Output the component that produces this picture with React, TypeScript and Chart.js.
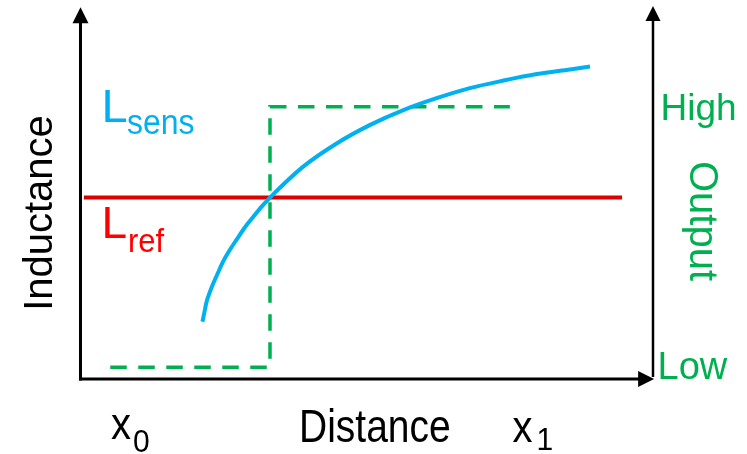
import React, { useEffect, useRef } from "react";
import { Chart, registerables } from "chart.js";

Chart.register(...registerables);

// ---- Data (arbitrary units: Distance 0..100 between the two vertical axes, Inductance 0..~100) ----
const sensDistance = [21.3, 21.7, 22.0, 22.6, 23.2, 24.1, 24.9, 26.1, 27.3, 28.7, 30.2, 31.6, 33.1, 38.9, 44.8, 50.6, 56.4, 62.2, 68.0, 73.9, 79.7, 85.5, 89.0];
const sensInductance = [15.9, 19.0, 21.3, 24.2, 26.6, 29.8, 32.6, 35.9, 38.8, 42.1, 45.1, 47.8, 50.4, 59.0, 65.5, 70.6, 74.7, 78.0, 80.8, 82.9, 84.7, 86.0, 86.8];

const refDistance = [0.6, 94.6];
const refInductance = [50.4, 50.4];

const outDistance = [5.2, 33.1, 33.1, 75.0];
const outLevel = [3.3, 3.3, 75.6, 75.6];

// axis extents (data units)
const leftAxisX = 0;
const rightAxisX = 100;
const axisTopLeft = 103.3;
const axisTopRight = 103.6;
const axisRightEnd = 100.2;

const FONT = '"Liberation Sans", Arial, Helvetica, sans-serif';
const BLUE = "#00B0F0";
const RED_LINE = "#DD0000";
const RED_TEXT = "#FF0000";
const GREEN = "#00B050";

function pts(xs: number[], ys: number[]) {
  return xs.map((x, i) => ({ x, y: ys[i] }));
}

function drawText(
  ctx: CanvasRenderingContext2D,
  text: string,
  x: number,
  y: number,
  size: number,
  color: string,
  sy = 1,
  rot = 0,
  align: CanvasTextAlign = "left"
) {
  ctx.save();
  ctx.translate(x, y);
  ctx.rotate(rot);
  ctx.scale(1, sy);
  ctx.font = `${size}px ${FONT}`;
  ctx.fillStyle = color;
  ctx.textAlign = align;
  ctx.textBaseline = "alphabetic";
  ctx.fillText(text, 0, 0);
  ctx.restore();
}

const decorPlugin = {
  id: "decor",
  afterDatasetsDraw(chart: any) {
    const ctx: CanvasRenderingContext2D = chart.ctx;
    const xs = chart.scales.x;
    const ys = chart.scales.y;
    const x0 = xs.getPixelForValue(leftAxisX);
    const x1 = xs.getPixelForValue(rightAxisX);
    const y0 = ys.getPixelForValue(0);
    const yTopL = ys.getPixelForValue(axisTopLeft);
    const yTopR = ys.getPixelForValue(axisTopRight);
    const xEnd = xs.getPixelForValue(axisRightEnd);

    ctx.save();
    ctx.strokeStyle = "#000";
    ctx.fillStyle = "#000";
    ctx.lineWidth = 3;
    // left axis
    ctx.beginPath();
    ctx.moveTo(x0, y0 + 1.5);
    ctx.lineTo(x0, yTopL + 14);
    ctx.stroke();
    ctx.beginPath();
    ctx.moveTo(x0, yTopL);
    ctx.lineTo(x0 - 8, yTopL + 16);
    ctx.lineTo(x0 + 8, yTopL + 16);
    ctx.closePath();
    ctx.fill();
    // right axis
    ctx.lineWidth = 2.5;
    ctx.beginPath();
    ctx.moveTo(x1, y0 - 2);
    ctx.lineTo(x1, yTopR + 12);
    ctx.stroke();
    ctx.beginPath();
    ctx.moveTo(x1, yTopR);
    ctx.lineTo(x1 - 7.5, yTopR + 15);
    ctx.lineTo(x1 + 7.5, yTopR + 15);
    ctx.closePath();
    ctx.fill();
    // bottom axis
    ctx.lineWidth = 3;
    ctx.beginPath();
    ctx.moveTo(x0 - 1.5, y0);
    ctx.lineTo(xEnd - 14, y0);
    ctx.stroke();
    ctx.beginPath();
    ctx.moveTo(xEnd, y0);
    ctx.lineTo(xEnd - 16, y0 - 8);
    ctx.lineTo(xEnd - 16, y0 + 8);
    ctx.closePath();
    ctx.fill();
    ctx.restore();

    // texts
    drawText(ctx, "Inductance", 52, 213, 40, "#000", 1, -Math.PI / 2, "center");
    drawText(ctx, "Distance", 299, 441.5, 39, "#000", 1.17);
    drawText(ctx, "x", 111, 438.5, 40, "#000", 1.1);
    drawText(ctx, "0", 133, 451.5, 30, "#000", 1.05);
    drawText(ctx, "x", 512.5, 441.5, 40, "#000", 1.1);
    drawText(ctx, "1", 536.5, 450, 30, "#000", 1.05);

    drawText(ctx, "L", 101.5, 121.7, 47, BLUE, 0.98);
    drawText(ctx, "sens", 127, 134, 32, BLUE, 1.12);
    drawText(ctx, "L", 101.5, 238.3, 46, RED_TEXT, 0.98);
    drawText(ctx, "ref", 128, 251.7, 31, RED_TEXT, 1.1);

    drawText(ctx, "High", 660.5, 120, 37, GREEN, 1);
    drawText(ctx, "Low", 657.5, 379.3, 38, GREEN, 1);
    drawText(ctx, "Output", 690, 161, 40, GREEN, 1, Math.PI / 2);
  },
};

export default function App() {
  const canvasRef = useRef<HTMLCanvasElement | null>(null);

  useEffect(() => {
    const canvas = canvasRef.current;
    if (!canvas) return;
    const chart = new Chart(canvas, {
      type: "line",
      data: {
        datasets: [
          {
            label: "Lsens",
            data: pts(sensDistance, sensInductance),
            borderColor: BLUE,
            borderWidth: 4,
            pointRadius: 0,
            cubicInterpolationMode: "monotone",
            clip: false,
          } as any,
          {
            label: "Lref",
            data: pts(refDistance, refInductance),
            borderColor: RED_LINE,
            borderWidth: 4,
            pointRadius: 0,
            clip: false,
          } as any,
          {
            label: "Output",
            data: pts(outDistance, outLevel),
            borderColor: GREEN,
            borderWidth: 3.5,
            borderDash: [16.5, 11.5],
            pointRadius: 0,
            tension: 0,
            clip: false,
          } as any,
        ],
      },
      options: {
        animation: false,
        responsive: false,
        maintainAspectRatio: false,
        layout: { padding: 0 },
        plugins: {
          legend: { display: false },
          tooltip: { enabled: false },
        },
        scales: {
          x: { type: "linear", display: false, min: -14.06, max: 116.42 },
          y: { type: "linear", display: false, min: -20.83, max: 105.28 },
        },
      },
      plugins: [decorPlugin],
    });
    return () => chart.destroy();
  }, []);

  return (
    <div style={{ position: "fixed", left: 0, top: 0, width: 747, height: 454, background: "#fff" }}>
      <canvas ref={canvasRef} width={747} height={454} style={{ display: "block", width: 747, height: 454 }} />
    </div>
  );
}
